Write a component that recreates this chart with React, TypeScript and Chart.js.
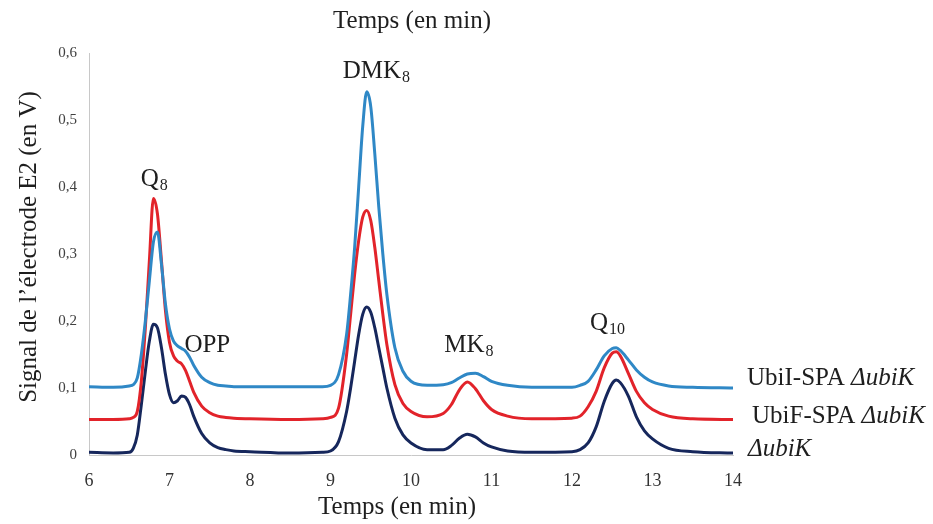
import React, { useEffect, useRef } from "react";
import { Chart, registerables } from "chart.js";

Chart.register(...registerables);

// Retention time (min)
const time = [
  6.0, 6.3, 6.5, 6.55, 6.6, 6.65, 6.7, 6.75, 6.8, 6.85, 6.9, 6.95, 7.0, 7.05, 7.1, 7.15, 7.2, 7.25, 7.3, 7.4,
  7.5, 7.6, 7.7, 7.8, 8.0, 8.5, 8.9, 9.0, 9.1, 9.2, 9.25, 9.3, 9.35, 9.4, 9.45, 9.5, 9.55, 9.6, 9.65, 9.7,
  9.8, 9.9, 10.0, 10.2, 10.4, 10.5, 10.6, 10.7, 10.8, 10.9, 11.0, 11.2, 11.5, 12.0, 12.1, 12.2, 12.3, 12.4,
  12.5, 12.55, 12.6, 12.7, 12.8, 12.9, 13.0, 13.2, 13.5, 14.0,
];

// ΔubiK (navy)
const ubiK = [
  0.004, 0.003, 0.004, 0.01, 0.03, 0.075, 0.125, 0.17, 0.195, 0.19, 0.16, 0.12, 0.09, 0.078, 0.081, 0.088, 0.086, 0.075, 0.058, 0.032,
  0.018, 0.011, 0.008, 0.006, 0.005, 0.003, 0.004, 0.006, 0.02, 0.065, 0.1, 0.14, 0.18, 0.21, 0.221, 0.213, 0.19, 0.16, 0.13, 0.1,
  0.055, 0.03, 0.018, 0.008, 0.008, 0.014, 0.025, 0.031, 0.027, 0.018, 0.012, 0.006, 0.004, 0.005, 0.008, 0.018, 0.042, 0.08,
  0.107, 0.112, 0.108, 0.088, 0.057, 0.036, 0.024, 0.01, 0.005, 0.003,
];

// UbiF-SPA ΔubiK (red)
const ubiF = [
  0.053, 0.053, 0.054, 0.056, 0.065, 0.11, 0.19, 0.29, 0.383, 0.36, 0.29, 0.215, 0.168, 0.148, 0.14, 0.136, 0.126, 0.11, 0.094, 0.073,
  0.063, 0.058, 0.056, 0.055, 0.054, 0.053, 0.054, 0.056, 0.07, 0.15, 0.21, 0.27, 0.32, 0.355, 0.365, 0.35, 0.31, 0.26, 0.21, 0.165,
  0.105, 0.077, 0.065, 0.057, 0.062, 0.075, 0.097, 0.109, 0.099, 0.081, 0.068, 0.058, 0.054, 0.055, 0.058, 0.072, 0.095, 0.13,
  0.152, 0.154, 0.148, 0.122, 0.095, 0.078, 0.068, 0.058, 0.054, 0.053,
];

// UbiI-SPA ΔubiK (light blue)
const ubiI = [
  0.102, 0.101, 0.103, 0.105, 0.115, 0.15, 0.2, 0.26, 0.318, 0.333, 0.285, 0.225, 0.188, 0.17, 0.163, 0.159, 0.155, 0.146, 0.134, 0.116,
  0.108, 0.104, 0.103, 0.102, 0.102, 0.102, 0.102, 0.104, 0.12, 0.18, 0.24, 0.31, 0.4, 0.49, 0.542, 0.52, 0.45, 0.37, 0.3, 0.24,
  0.16, 0.125, 0.11, 0.104, 0.105, 0.108, 0.115, 0.121, 0.122, 0.117, 0.11, 0.104, 0.101, 0.101, 0.104, 0.11, 0.127, 0.148,
  0.159, 0.16, 0.156, 0.142, 0.127, 0.116, 0.109, 0.103, 0.101, 0.1,
];

const peakNames = ["Q", "OPP", "DMK", "MK", "Q"];
const peakSubs = ["8", "", "8", "8", "10"];
const peakTimes = [6.81, 7.47, 9.57, 10.72, 12.44];
const peakLevels = [0.401, 0.154, 0.563, 0.154, 0.187];

const seriesPrefix = ["UbiI-SPA ", "UbiF-SPA ", ""];
const seriesItalic = ["\u0394ubiK", "\u0394ubiK", "\u0394ubiK"];

const xTitle = "Temps (en min)";
const yTitle = "Signal de l\u2019\u00e9lectrode E2 (en V)";

const SERIF = '"Liberation Serif", "Times New Roman", serif';

export default function App() {
  const ref = useRef<HTMLCanvasElement>(null);

  useEffect(() => {
    if (!ref.current) return;

    const textPlugin = {
      id: "texts",
      afterDraw(chart: any) {
        const { ctx, chartArea, scales } = chart;
        const xs = scales.x;
        const ys = scales.y;
        ctx.save();
        ctx.fillStyle = "#1e1e1e";
        ctx.textBaseline = "alphabetic";

        // titles
        ctx.font = `25px ${SERIF}`;
        ctx.textAlign = "center";
        ctx.fillText(xTitle, 412, 28);
        ctx.fillText(xTitle, 397, 514);
        ctx.save();
        ctx.translate(29, 247);
        ctx.rotate(-Math.PI / 2);
        ctx.textBaseline = "middle";
        ctx.fillText(yTitle, 0, 0);
        ctx.restore();

        // peak labels
        ctx.textAlign = "left";
        for (let i = 0; i < peakNames.length; i++) {
          ctx.font = `25px ${SERIF}`;
          const mw = ctx.measureText(peakNames[i]).width;
          ctx.font = `16px ${SERIF}`;
          const sw = peakSubs[i] ? ctx.measureText(peakSubs[i]).width + 1 : 0;
          const cx = xs.getPixelForValue(peakTimes[i]);
          const by = ys.getPixelForValue(peakLevels[i]);
          const left = cx - (mw + sw) / 2;
          ctx.font = `25px ${SERIF}`;
          ctx.fillText(peakNames[i], left, by);
          if (peakSubs[i]) {
            ctx.font = `16px ${SERIF}`;
            ctx.fillText(peakSubs[i], left + mw + 1, by + 4);
          }
        }

        // series labels
        const lx = [chartArea.right + 14, chartArea.right + 19, chartArea.right + 15];
        const ly = [385, 423, 456];
        for (let i = 0; i < 3; i++) {
          ctx.font = `25px ${SERIF}`;
          ctx.fillText(seriesPrefix[i], lx[i], ly[i]);
          const w = ctx.measureText(seriesPrefix[i]).width;
          ctx.font = `italic 25px ${SERIF}`;
          ctx.fillText(seriesItalic[i], lx[i] + w, ly[i]);
        }
        ctx.restore();
      },
    };

    const mk = (label: string, data: number[], color: string) => ({
      label,
      data: time.map((t, i) => ({ x: t, y: data[i] })),
      borderColor: color,
      backgroundColor: color,
      borderWidth: 3,
      pointRadius: 0,
      cubicInterpolationMode: "monotone" as const,
      fill: false,
    });

    const chart = new Chart(ref.current, {
      type: "line",
      data: {
        datasets: [
          mk("UbiI-SPA \u0394ubiK", ubiI, "#2f88c6"),
          mk("UbiF-SPA \u0394ubiK", ubiF, "#e2232a"),
          mk("\u0394ubiK", ubiK, "#16275c"),
        ],
      },
      options: {
        responsive: false,
        animation: false,
        layout: { padding: { top: 53, right: 200, left: 0, bottom: 0 } },
        plugins: {
          legend: { display: false },
          tooltip: { enabled: false },
          title: { display: false },
        },
        scales: {
          x: {
            type: "linear",
            min: 6,
            max: 14,
            grid: { display: false },
            border: { display: true, color: "#c8c8c8", width: 1 },
            ticks: {
              stepSize: 1,
              padding: 7,
              color: "#333333",
              font: { family: SERIF, size: 18 },
              maxRotation: 0,
            },
            afterFit(scale: any) {
              scale.height = 69;
            },
          },
          y: {
            type: "linear",
            min: 0,
            max: 0.6,
            grid: { display: false },
            border: { display: true, color: "#c8c8c8", width: 1 },
            ticks: {
              stepSize: 0.1,
              padding: 4,
              color: "#404040",
              font: { family: SERIF, size: 15 },
              callback: (v: any) => (Number(v) === 0 ? "0" : Number(v).toFixed(1).replace(".", ",")),
            },
            afterFit(scale: any) {
              scale.width = 89;
            },
          },
        },
      },
      plugins: [textPlugin],
    });

    return () => chart.destroy();
  }, []);

  return (
    <div style={{ position: "fixed", left: 0, top: 0, width: 933, height: 524, background: "#ffffff" }}>
      <canvas ref={ref} width={933} height={524} style={{ display: "block" }} />
    </div>
  );
}
